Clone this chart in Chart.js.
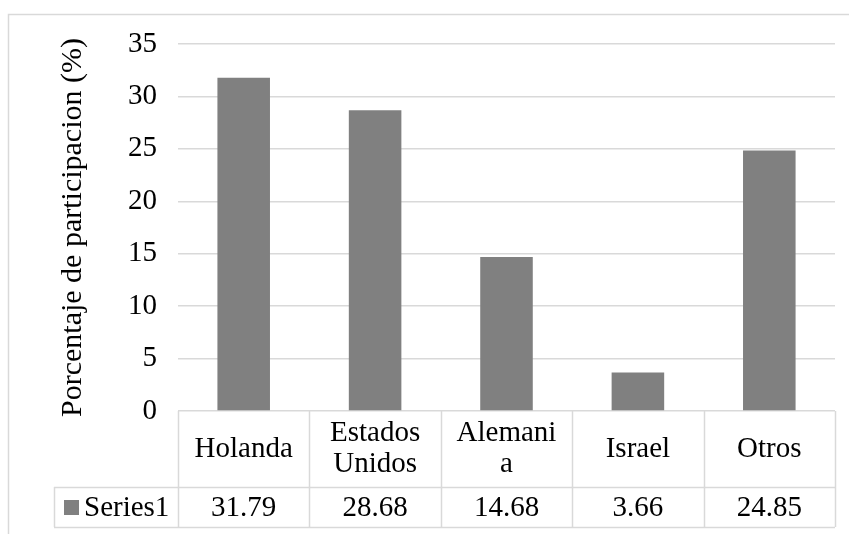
<!DOCTYPE html>
<html>
<head>
<meta charset="utf-8">
<script src="https://cdn.jsdelivr.net/npm/chart.js@4/dist/chart.umd.min.js"></script>
<style>
  html, body { margin: 0; padding: 0; background: #fff; }
  #wrap { width: 849px; height: 534px; }
</style>
</head>
<body>
<div id="wrap"><canvas id="c" width="849" height="534"></canvas></div>
<script>
// Country shares of participation (%)
const categories = [["Holanda"], ["Estados", "Unidos"], ["Alemani", "a"], ["Israel"], ["Otros"]];
const seriesName = "Series1";
const seriesValues = [31.79, 28.68, 14.68, 3.66, 24.85];
const valueLabels = ["31.79", "28.68", "14.68", "3.66", "24.85"];
const axisTitle = "Porcentaje de participacion (%)";

const FONT = '"Liberation Serif", "Times New Roman", serif';
const FONT_SIZE = 29;
const TITLE_SIZE = 30;
const LINE = '#d9d9d9';
const BAR = '#808080';

// Draws the frame and the data table under the plot area
const dataTablePlugin = {
  id: 'dataTable',
  beforeDraw(chart) {
    const ctx = chart.ctx;
    ctx.save();
    ctx.fillStyle = '#fff';
    ctx.fillRect(0, 0, chart.width, chart.height);
    ctx.strokeStyle = LINE;
    ctx.lineWidth = 1.5;
    ctx.strokeRect(8.5, 14.5, chart.width + 40, chart.height + 40);
    ctx.restore();
  },
  afterDraw(chart) {
    const ctx = chart.ctx;
    const x = chart.scales.x;
    const area = chart.chartArea;
    const n = categories.length;
    const cw = (area.right - area.left) / n;
    const rowTop = area.bottom;
    const rowMid = rowTop + 76;
    const rowBot = rowMid + 40;
    const legendLeft = 54;

    ctx.save();
    ctx.strokeStyle = LINE;
    ctx.lineWidth = 1.5;
    ctx.beginPath();
    // column separators
    for (let i = 0; i <= n; i++) {
      const px = Math.round(area.left + i * cw) + 0.5;
      ctx.moveTo(px, rowTop);
      ctx.lineTo(px, rowBot);
    }
    // row separators
    ctx.moveTo(legendLeft, rowMid + 0.5);
    ctx.lineTo(area.right, rowMid + 0.5);
    ctx.moveTo(legendLeft, rowBot + 0.5);
    ctx.lineTo(area.right, rowBot + 0.5);
    ctx.moveTo(legendLeft + 0.5, rowMid);
    ctx.lineTo(legendLeft + 0.5, rowBot);
    ctx.stroke();

    ctx.fillStyle = '#000';
    ctx.font = FONT_SIZE + 'px ' + FONT;
    ctx.textAlign = 'center';
    ctx.textBaseline = 'middle';
    const lh = 31;
    categories.forEach((lines, i) => {
      const cx = x.getPixelForValue(i);
      const cy = (rowTop + rowMid) / 2;
      const y0 = cy - (lines.length - 1) * lh / 2;
      lines.forEach((t, k) => ctx.fillText(t, cx, y0 + k * lh));
      ctx.fillText(valueLabels[i], cx, (rowMid + rowBot) / 2 + 1);
    });

    // legend key and series name
    ctx.fillStyle = BAR;
    ctx.fillRect(64, 500, 15, 15);
    ctx.fillStyle = '#000';
    ctx.textAlign = 'left';
    ctx.fillText(seriesName, 84, (rowMid + rowBot) / 2 + 1);
    ctx.restore();
  }
};

new Chart(document.getElementById('c'), {
  type: 'bar',
  data: {
    labels: categories,
    datasets: [{
      label: seriesName,
      data: seriesValues,
      backgroundColor: BAR,
      borderWidth: 0,
      categoryPercentage: 1.0,
      barPercentage: 0.4
    }]
  },
  options: {
    responsive: false,
    animation: false,
    devicePixelRatio: 1,
    layout: { padding: { top: 44, right: 14, bottom: 123, left: 0 } },
    plugins: { legend: { display: false }, tooltip: { enabled: false } },
    scales: {
      x: { display: false },
      y: {
        min: 0,
        max: 35,
        ticks: {
          stepSize: 5,
          color: '#000',
          padding: 21,
          font: { family: FONT, size: FONT_SIZE }
        },
        grid: { color: LINE, lineWidth: 1.5, drawTicks: false },
        border: { display: false },
        title: {
          display: true,
          text: axisTitle,
          color: '#000',
          padding: { top: 55, bottom: 0 },
          font: { family: FONT, size: TITLE_SIZE }
        },
        afterFit(scale) { scale.width = 178; }
      }
    }
  },
  plugins: [dataTablePlugin]
});
</script>
</body>
</html>
